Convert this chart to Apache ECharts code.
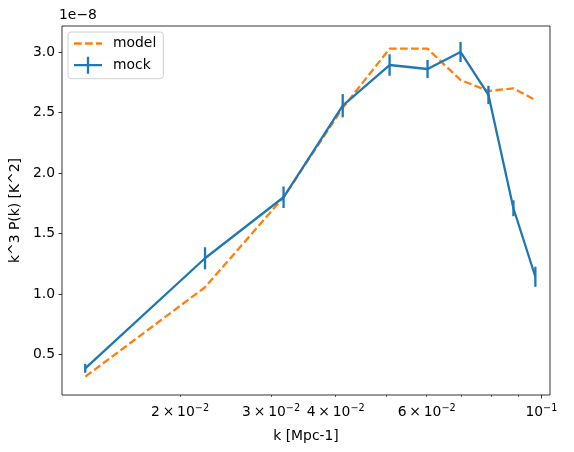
<!DOCTYPE html>
<html>
<head>
<meta charset="utf-8">
<script src="https://cdn.jsdelivr.net/npm/echarts@6/dist/echarts.min.js"></script>
<style>
html,body{margin:0;padding:0;background:#fff;}
#chart{width:574px;height:452px;}
</style>
</head>
<body>
<div id="chart"></div>
<script>
// ---- data (y values in units of 1e-8) ----
const kValues = [0.01311, 0.02235, 0.03171, 0.04127, 0.05085, 0.06022, 0.06975, 0.07899, 0.08828, 0.09734];
const mockValues = [0.384, 1.295, 1.800, 2.558, 2.895, 2.862, 3.003, 2.647, 1.709, 1.142];
const mockErrors = [0.037, 0.091, 0.089, 0.096, 0.089, 0.075, 0.083, 0.076, 0.066, 0.083];
const modelValues = [0.315, 1.055, 1.800, 2.540, 3.030, 3.030, 2.771, 2.680, 2.702, 2.605];
const xTickLabelValues = [0.02, 0.03, 0.04, 0.06, 0.1];
const xTickLabelMantissa = ['2\u2009\u00d7\u200910', '3\u2009\u00d7\u200910', '4\u2009\u00d7\u200910', '6\u2009\u00d7\u200910', '10'];
const xTickLabelExponent = ['\u22122', '\u22122', '\u22122', '\u22122', '\u22121'];
const xMinorTicks = [0.02, 0.03, 0.04, 0.05, 0.06, 0.07, 0.08, 0.09];
const xMajorTicks = [0.1];
const yTickValues = [0.5, 1.0, 1.5, 2.0, 2.5, 3.0];

const FONT = 'DejaVu Sans';
const BLUE = '#1f77b4';
const ORANGE = '#ff7f0e';

const modelData = kValues.map((k, i) => [k, modelValues[i]]);
const mockData = kValues.map((k, i) => [k, mockValues[i]]);
const errData = kValues.map((k, i) => [k, mockValues[i] - mockErrors[i], mockValues[i] + mockErrors[i]]);

const chart = echarts.init(document.getElementById('chart'), null, {renderer: 'canvas'});

function xLabel(v) {
  let best = 0, bd = Infinity;
  xTickLabelValues.forEach((t, i) => { const d = Math.abs(Math.log(v) - Math.log(t)); if (d < bd) { bd = d; best = i; } });
  return '{m|' + xTickLabelMantissa[best] + '}{e|' + xTickLabelExponent[best] + '}';
}

const option = {
  animation: false,
  backgroundColor: '#fff',
  textStyle: {fontFamily: FONT},
  title: {
    text: '1e\u22128', left: 59, top: 8, padding: 0,
    textStyle: {fontFamily: FONT, fontSize: 13.9, fontWeight: 'normal', color: '#000'}
  },
  grid: {
    left: 61, right: 24, top: 26, bottom: 57,
    show: true, borderColor: '#000', borderWidth: 0.8, backgroundColor: 'transparent'
  },
  legend: {
    orient: 'vertical', left: 68, top: 32,
    padding: [3, 7, 5, 6], itemGap: 4.7, itemWidth: 34, itemHeight: 17,
    backgroundColor: 'rgba(255,255,255,0.8)', borderColor: '#d0d0d0', borderWidth: 1, borderRadius: 3,
    textStyle: {fontFamily: FONT, fontSize: 13.9, color: '#000'},
    data: [
      {name: 'model', icon: 'path://M0,0 M34,17 M0,7.35h7.7v2.3h-7.7z M11,7.35h7.7v2.3h-7.7z M22,7.35h6v2.3h-6z', itemStyle: {color: ORANGE}},
      {name: 'mock', icon: 'path://M0,0 M34,17 M0,7.35h28v2.3h-28z M12.85,0h2.3v17h-2.3z', itemStyle: {color: BLUE}}
    ]
  },
  xAxis: [
    {
      type: 'log', min: 0.01182, max: 0.1039, position: 'bottom',
      name: 'k [Mpc-1]', nameLocation: 'middle', nameGap: 34,
      nameTextStyle: {fontFamily: FONT, fontSize: 13.9, color: '#000'},
      axisLine: {show: false},
      splitLine: {show: false},
      minorTick: {show: false},
      axisTick: {show: true, inside: false, length: 2, lineStyle: {color: '#000', width: 0.6}, customValues: xMinorTicks},
      axisLabel: {
        show: true, margin: 8, customValues: xTickLabelValues,
        formatter: xLabel,
        rich: {
          m: {fontFamily: FONT, fontSize: 13.9, color: '#000', verticalAlign: 'bottom'},
          e: {fontFamily: FONT, fontSize: 9.7, color: '#000', verticalAlign: 'bottom', padding: [0, 0, 6, 0]}
        }
      }
    },
    {
      type: 'log', min: 0.01182, max: 0.1039, position: 'bottom',
      axisLine: {show: false}, splitLine: {show: false}, axisLabel: {show: false},
      axisTick: {show: true, inside: false, length: 3.5, lineStyle: {color: '#000', width: 0.8}, customValues: xMajorTicks}
    }
  ],
  yAxis: {
    type: 'value', min: 0.163, max: 3.218,
    name: 'k^3 P(k) [K^2]', nameLocation: 'middle', nameGap: 38,
    nameTextStyle: {fontFamily: FONT, fontSize: 13.9, color: '#000'},
    axisLine: {show: false},
    splitLine: {show: false},
    axisTick: {show: true, inside: false, length: 3.5, lineStyle: {color: '#000', width: 0.8}, customValues: yTickValues},
    axisLabel: {
      show: true, margin: 7, customValues: yTickValues,
      fontFamily: FONT, fontSize: 13.9, color: '#000',
      formatter: v => v.toFixed(1)
    }
  },
  series: [
    {
      name: 'model', type: 'line', data: modelData, xAxisIndex: 0,
      symbol: 'none', color: ORANGE,
      lineStyle: {color: ORANGE, width: 2.3, type: [7.7, 3.3]},
      z: 2
    },
    {
      name: 'mock', type: 'line', data: mockData, xAxisIndex: 0,
      symbol: 'none', color: BLUE,
      lineStyle: {color: BLUE, width: 2.3},
      z: 3
    },
    {
      name: 'mock', type: 'custom', data: errData, xAxisIndex: 0,
      encode: {x: 0, y: [1, 2]},
      renderItem: function (params, api) {
        const p1 = api.coord([api.value(0), api.value(1)]);
        const p2 = api.coord([api.value(0), api.value(2)]);
        return {
          type: 'line',
          shape: {x1: p1[0], y1: p1[1], x2: p2[0], y2: p2[1]},
          style: {stroke: BLUE, lineWidth: 2.3}
        };
      },
      z: 4
    }
  ]
};
chart.setOption(option);
</script>
</body>
</html>
